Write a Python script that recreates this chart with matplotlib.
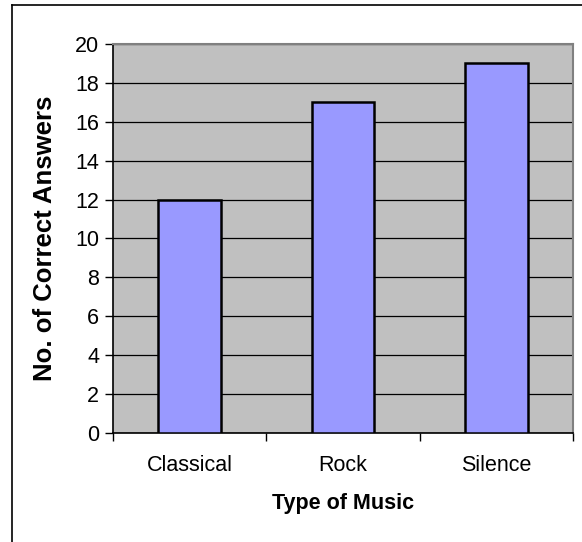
import numpy as np
from matplotlib import pyplot as plt
from matplotlib.lines import Line2D

music_types = ["Classical", "Rock", "Silence"]
correct_answers = [12, 17, 19]
y_ticks = list(range(0, 21, 2))


def main():
    plt.rcParams['font.family'] = ['Liberation Sans', 'DejaVu Sans']
    fs = 15.5
    fig = plt.figure(figsize=(5.82, 5.42), dpi=100)
    ax = fig.add_axes([113 / 582, 1 - 433 / 542, 460 / 582, 389 / 542])
    ax.set_facecolor("#c0c0c0")

    x = np.arange(len(music_types))
    ax.bar(x, correct_answers, width=0.41, color="#9999ff", edgecolor="black", linewidth=1.8, zorder=3)

    ax.set_xlim(-0.5, len(music_types) - 0.5)
    ax.set_ylim(0, 20)
    ax.set_yticks(y_ticks)
    ax.set_yticklabels([str(t) for t in y_ticks], fontsize=fs)
    ax.set_xticks(x)
    ax.set_xticklabels(music_types, fontsize=fs)
    ax.tick_params(axis="x", length=0, pad=16)
    ax.set_xticks(np.arange(-0.5, len(music_types)), minor=True)
    ax.tick_params(axis="x", which="minor", length=6, width=1, direction="out")
    ax.tick_params(axis="y", length=6, width=1, direction="out", pad=4)

    ax.grid(axis="y", color="black", linewidth=0.9, zorder=1)
    ax.set_axisbelow(True)

    for side in ["left", "bottom"]:
        ax.spines[side].set_color("black")
        ax.spines[side].set_linewidth(1.2)
    for side in ["top", "right"]:
        ax.spines[side].set_color("#808080")
        ax.spines[side].set_linewidth(1.5)

    ax.set_ylabel("No. of Correct Answers", fontsize=18.5, fontweight="bold")
    ax.yaxis.set_label_coords(-0.122, 0.5)
    ax.set_xlabel("Type of Music", fontsize=fs, fontweight="bold")
    ax.xaxis.set_label_coords(0.5, -0.155)

    # chart frame, left and top edges only
    w, h = 582, 542
    fig.lines.append(Line2D([11.5 / w, 11.5 / w], [0, 1 - 4.5 / h], transform=fig.transFigure,
                            color="black", linewidth=1.2))
    fig.lines.append(Line2D([11.5 / w, 1], [1 - 4.5 / h, 1 - 4.5 / h], transform=fig.transFigure,
                            color="black", linewidth=1.2))
    fig.savefig("out.png", dpi=100)


if __name__ == '__main__':
    main()
